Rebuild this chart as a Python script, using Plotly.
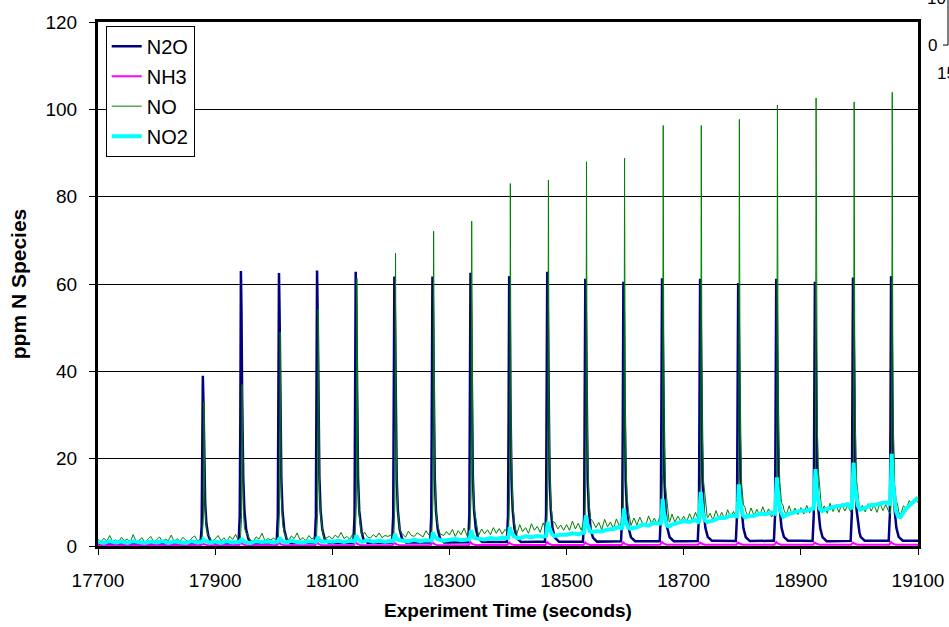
import numpy as np
import plotly.graph_objects as go

# ---- axis extent (s) ----
T_START, T_END = 17700, 19100

# ---- pulse times (s) and the maximum reached by each species per pulse (ppm) ----
PEAK_TIMES = [17879, 17944, 18009, 18074, 18140, 18206, 18271, 18336, 18402, 18467,
              18532, 18597, 18663, 18728, 18793, 18858, 18924, 18989, 19054]
N2O_PEAKS = [39.0, 63.0, 62.5, 63.1, 62.8, 61.7, 61.7, 62.6, 61.8, 62.8,
             61.2, 60.5, 61.3, 61.2, 60.2, 61.2, 60.5, 61.5, 61.8]
NO_PEAKS = [33.0, 37.0, 49.0, 54.3, 61.3, 67.1, 72.1, 74.4, 83.0, 83.8,
            88.0, 88.8, 96.3, 96.3, 97.7, 101.0, 102.6, 101.7, 103.9]
NO2_PEAKS = [1.5, 1.7, 1.9, 2.1, 2.4, 2.8, 3.1, 3.6, 4.3, 5.5,
             7.0, 8.6, 10.8, 12.4, 14.1, 15.7, 17.6, 19.1, 21.1]
NH3_PEAKS = [0.5, 0.8, 0.8, 0.8, 0.9, 0.8, 0.9, 0.9, 0.8, 0.9,
             0.8, 0.8, 0.9, 0.8, 0.8, 0.9, 0.8, 0.8, 0.9]

# ---- lag of each analyser trace relative to the pulse time (s) ----
NO_LAG = 2.0
NO2_LAG = 1.0

# ---- pulse shapes: time from maximum (s) and fraction of pulse height ----
N2O_SHAPE_DT = [-4, -2, -1, 0, 1, 2, 3, 4, 6, 9, 13, 20]
N2O_SHAPE_FR = [0, 0.1, 0.45, 1, 0.85, 0.55, 0.36, 0.24, 0.12, 0.05, 0.015, 0]
NO_SHAPE_DT = [-3, -1, 0, 1, 2, 4, 7, 11]
NO_SHAPE_FR = [0, 0.12, 1, 0.4, 0.2, 0.08, 0.025, 0]
NO2_SHAPE_DT = [-3, -1, 0, 2, 4, 7, 11]
NO2_SHAPE_FR = [0, 0.5, 1, 0.55, 0.3, 0.1, 0]
NH3_SHAPE_DT = [-3, 0, 3, 8]
NH3_SHAPE_FR = [0, 1, 0.4, 0]

# ---- between-pulse levels (ppm) ----
N2O_BASE_T = list(range(17700, 19101, 50))
N2O_BASE = [0.5, 0.5, 0.5, 0.6, 0.6, 0.6, 0.6, 0.7, 0.7, 0.7,
            0.8, 0.8, 0.8, 0.9, 0.9, 1.0, 1.0, 1.0, 1.1, 1.1,
            1.1, 1.2, 1.1, 1.2, 1.2, 1.1, 1.2, 1.2, 1.2]

NH3_BASE_T = list(range(17700, 19101, 100))
NH3_BASE = [0.2, 0.2, 0.2, 0.2, 0.2, 0.2, 0.2, 0.25, 0.25, 0.25, 0.3, 0.3, 0.3, 0.3, 0.3]

NO_BASE_T = list(range(17700, 19101, 5))
NO_BASE = [
    1.5, 0.9, 1.8, 1.1, 2.4, 1.0, 1.4, 0.8, 2.0, 1.2, 1.6, 0.9, 2.6, 1.1, 1.3, 1.9, 0.8, 1.5, 2.2, 1.0,
    1.4, 2.1, 0.9, 1.6, 1.2, 2.5, 1.0, 1.7, 1.1, 2.0, 1.3, 0.9, 1.8, 2.3, 1.2, 1.5, 2.8, 1.4, 1.9, 1.1,
    1.6, 2.4, 1.2, 1.9, 1.0, 2.2, 1.5, 2.7, 1.1, 1.8, 1.3, 2.5, 1.4, 1.0, 2.1, 1.6, 2.9, 1.2, 1.7, 1.4,
    1.8, 1.2, 2.6, 1.5, 2.0, 1.1, 2.3, 1.7, 3.0, 1.4, 1.9, 1.2, 2.4, 1.6, 2.1, 1.3, 2.7, 1.5, 1.9, 2.2,
    1.6, 2.5, 1.9, 3.1, 1.7, 2.2, 1.5, 2.8, 2.0, 2.4, 1.6, 3.2, 2.1, 1.8, 2.6, 2.0, 3.0, 1.9, 2.4, 2.2,
    2.5, 1.9, 3.2, 2.3, 2.8, 2.0, 3.4, 2.4, 2.2, 3.0, 2.6, 2.1, 3.5, 2.5, 2.9, 2.3, 3.1, 2.7, 2.4, 3.3,
    2.5, 3.8, 2.2, 3.5, 2.6, 4.1, 2.4, 3.6, 2.7, 4.3, 2.5, 3.9, 2.8, 3.7, 2.6, 4.2, 2.9, 4.0, 2.7, 3.8,
    3.0, 4.5, 3.4, 2.7, 4.9, 3.3, 4.2, 2.9, 5.1, 3.6, 4.5, 3.1, 5.3, 3.8, 4.4, 3.2, 5.4, 3.9, 4.8, 3.6,
    4.9, 3.6, 5.7, 3.9, 5.2, 3.6, 5.9, 4.4, 3.8, 5.6, 4.2, 5.4, 3.7, 6.1, 4.4, 5.5, 3.9, 6.2, 4.6, 5.6,
    4.1, 5.8, 4.7, 6.4, 4.8, 6.6, 5.1, 4.6, 6.9, 5.2, 6.4, 4.9, 7.1, 5.4, 6.6, 5.0, 7.3, 5.5, 6.8, 5.7,
    6.8, 5.5, 7.4, 5.8, 7.7, 6.0, 5.6, 7.9, 6.2, 7.5, 5.9, 8.1, 6.4, 7.7, 6.1, 8.3, 6.6, 7.9, 6.5, 8.1,
    6.5, 8.2, 6.8, 8.7, 7.0, 8.4, 6.9, 9.0, 7.2, 8.5, 6.6, 8.3, 8.9, 7.0, 8.6, 7.1, 9.2, 7.3, 8.7, 7.2,
    8.8, 7.3, 9.3, 7.6, 9.1, 7.4, 9.6, 7.8, 9.2, 7.5, 9.8, 7.9, 9.4, 7.7, 9.7, 8.0, 9.3, 7.8, 9.9, 7.9,
    7.6, 9.3, 7.8, 9.7, 8.0, 9.4, 7.7, 9.8, 8.1, 9.5, 7.9, 7.0, 6.6, 8.5, 6.9, 9.2, 8.6, 10.4, 9.4, 10.6,
    10.0,
]

NO2_BASE_T = list(range(17700, 19101, 10))
NO2_BASE = [
    1.0, 0.7, 1.1, 0.8, 1.0, 0.7, 1.1, 0.9, 0.7, 1.0,
    0.8, 1.1, 0.7, 1.0, 0.9, 0.7, 1.1, 0.8, 1.0, 0.8,
    1.0, 0.7, 1.1, 0.8, 1.0, 0.8, 0.7, 1.1, 0.9, 1.0,
    0.8, 1.1, 0.8, 1.2, 0.9, 0.8, 1.1, 1.0, 0.8, 1.1,
    1.0, 1.2, 0.9, 1.2, 1.0, 0.9, 1.3, 1.0, 1.2, 1.0,
    1.2, 1.0, 1.3, 1.1, 1.4, 1.1, 1.3, 1.2, 1.5, 1.2,
    1.4, 1.6, 1.3, 1.6, 1.4, 1.7, 1.5, 1.8, 1.6, 1.9,
    1.8, 2.0, 1.8, 2.2, 2.0, 2.3, 2.1, 2.5, 2.3, 2.6,
    2.6, 2.9, 2.7, 3.1, 3.0, 3.4, 3.3, 3.8, 3.9, 4.4,
    3.4, 4.0, 4.3, 4.9, 4.7, 5.3, 5.1, 4.0, 4.9, 5.3,
    5.7, 5.5, 6.0, 4.8, 5.5, 5.8, 6.4, 6.4, 7.0, 6.9,
    6.3, 6.8, 6.9, 7.4, 7.3, 7.7, 7.2, 6.7, 7.4, 7.7,
    8.1, 8.1, 8.6, 7.5, 8.3, 8.7, 9.1, 9.2, 9.6, 8.0,
    8.3, 8.7, 9.4, 9.5, 9.9, 9.9, 7.0, 6.6, 8.6, 10.0,
    11.1,
]

TICK_X = list(range(17700, 19101, 200))
TICK_Y = list(range(0, 121, 20))

SERIES = ["N2O", "NH3", "NO", "NO2"]
COLORS = {"N2O": "#000080", "NH3": "#FF00FF", "NO": "#008000", "NO2": "#00FFFF"}
WIDTHS = {"N2O": 2.5, "NH3": 2.0, "NO": 1.0, "NO2": 4.0}


def pulse_trace(base_t, base_v, times, maxima, lag, shape_dt, shape_fr):
    """Between-pulse level plus one shaped pulse per injection."""
    centres = [p + lag for p in times]
    t = set(base_t)
    for c in centres:
        t.update(c + d for d in shape_dt)
    t = np.array(sorted(x for x in t if T_START <= x <= T_END), dtype=float)
    y = np.interp(t, base_t, base_v)
    for c, m in zip(centres, maxima):
        level = np.interp(c, base_t, base_v)
        y = y + (m - level) * np.interp(t - c, shape_dt, shape_fr, left=0, right=0)
    return t, y


traces = {
    "N2O": pulse_trace(N2O_BASE_T, N2O_BASE, PEAK_TIMES, N2O_PEAKS, 0.0, N2O_SHAPE_DT, N2O_SHAPE_FR),
    "NH3": pulse_trace(NH3_BASE_T, NH3_BASE, PEAK_TIMES, NH3_PEAKS, 0.0, NH3_SHAPE_DT, NH3_SHAPE_FR),
    "NO": pulse_trace(NO_BASE_T, NO_BASE, PEAK_TIMES, NO_PEAKS, NO_LAG, NO_SHAPE_DT, NO_SHAPE_FR),
    "NO2": pulse_trace(NO2_BASE_T, NO2_BASE, PEAK_TIMES, NO2_PEAKS, NO2_LAG, NO2_SHAPE_DT, NO2_SHAPE_FR),
}

FONT = "Liberation Sans, Arial, sans-serif"

fig = go.Figure()
for name in SERIES:
    t, y = traces[name]
    fig.add_trace(go.Scatter(
        x=t, y=y, mode="lines", name=name, legendgroup=name,
        line=dict(color=COLORS[name], width=WIDTHS[name]),
    ))

fig.update_layout(
    width=949, height=627,
    margin=dict(l=98, r=31, t=22, b=81, autoexpand=False),
    paper_bgcolor="white", plot_bgcolor="white",
    font=dict(family=FONT, size=19, color="black"),
    showlegend=True,
    legend=dict(
        x=0.0094, y=0.993, xanchor="left", yanchor="top",
        bgcolor="white", bordercolor="black", borderwidth=1,
        tracegroupgap=1, itemwidth=30,
        font=dict(family=FONT, size=20, color="black"),
    ),
    xaxis=dict(
        range=[T_START, T_END], tickvals=TICK_X, ticktext=[str(v) for v in TICK_X],
        showgrid=False, zeroline=False, automargin=False,
        showline=True, linecolor="black", linewidth=3, mirror=True,
        ticks="outside", ticklen=6, tickwidth=1, tickcolor="black",
        ticklabelstandoff=9,
        tickfont=dict(family=FONT, size=19, color="black"),
        title=dict(text="<b>Experiment Time (seconds)</b>",
                   font=dict(family=FONT, size=19, color="black"), standoff=14),
    ),
    yaxis=dict(
        range=[0, 120], tickvals=TICK_Y, ticktext=[str(v) for v in TICK_Y],
        showgrid=True, gridcolor="black", gridwidth=1, zeroline=False, automargin=False,
        showline=True, linecolor="black", linewidth=3, mirror=True,
        ticks="outside", ticklen=6, tickwidth=1, tickcolor="black",
        ticklabelstandoff=8,
        tickfont=dict(family=FONT, size=19, color="black"),
        title=dict(text="<b>ppm N Species</b>",
                   font=dict(family=FONT, size=21, color="black"), standoff=14),
    ),
)

# Edge of the neighbouring inset axis (top right corner)
fig.add_shape(type="line", xref="paper", yref="paper",
              x0=1.0366, x1=1.0366, y0=0.956, y1=1.06,
              line=dict(color="black", width=1))
fig.add_shape(type="line", xref="paper", yref="paper",
              x0=1.0305, x1=1.0366, y0=0.956, y1=0.956,
              line=dict(color="black", width=1))
for txt, xp, yp, anchor in [("10", 1.036, 1.044, "right"),
                            ("0", 1.026, 0.956, "right"),
                            ("15", 1.0207, 0.9017, "left")]:
    fig.add_annotation(text=txt, xref="paper", yref="paper", x=xp, y=yp,
                       xanchor=anchor, yanchor="middle", showarrow=False,
                       font=dict(family=FONT, size=17, color="black"))

fig.write_html("out.html")
